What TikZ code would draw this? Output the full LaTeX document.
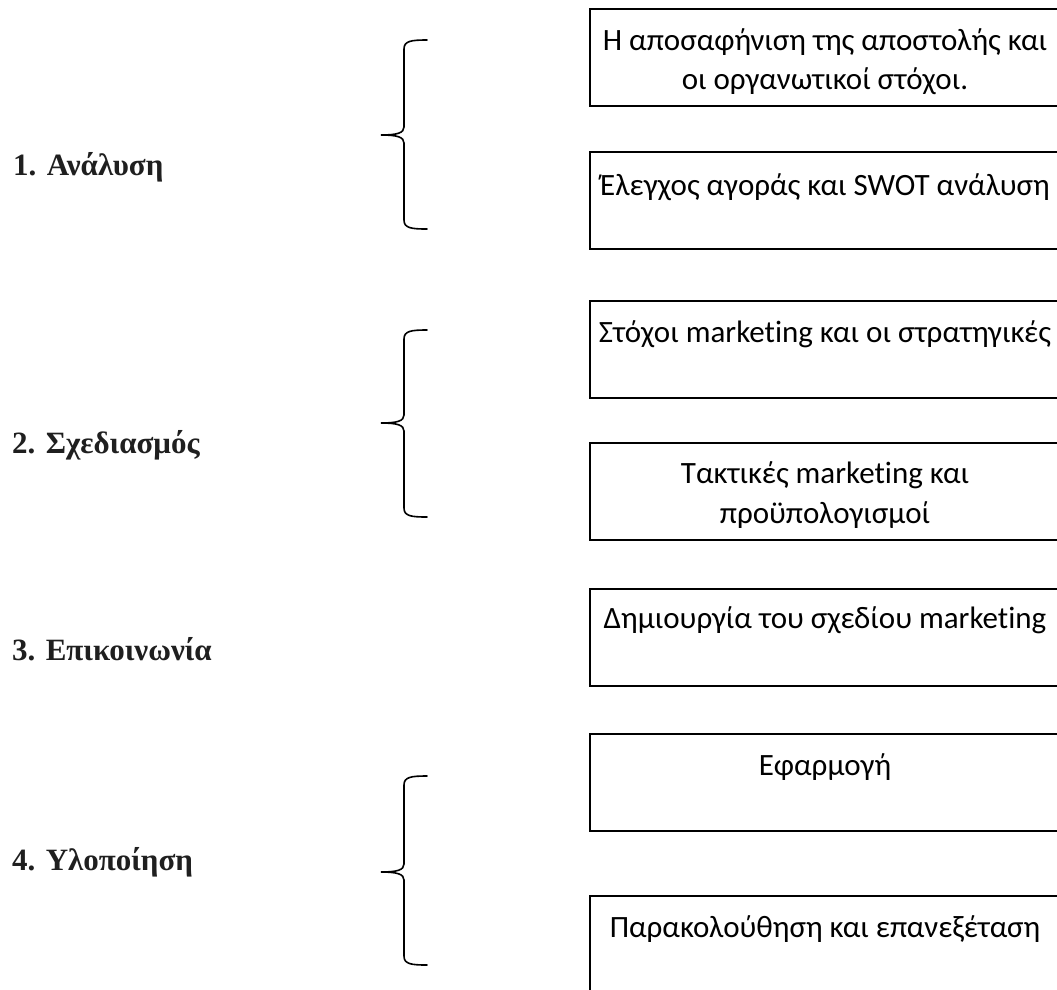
\documentclass[tikz,border=0pt]{standalone}
\usepackage{fontspec}
\newfontfamily\boxfont[Ligatures={NoCommon}]{Carlito}
\newfontfamily\labfont{Liberation Serif}
\newcommand{\mybrace}[3]{%
  \draw[bracestyle] (427,#1) .. controls (411,#1) and (404,#1+1) .. (404,#1+9)
    -- (404,#2-8) .. controls (404,#2-2) and (397,#2) .. (381,#2)
    .. controls (397,#2) and (404,#2+2) .. (404,#2+8)
    -- (404,#3-9) .. controls (404,#3-1) and (411,#3) .. (427,#3);}
\begin{document}
\begin{tikzpicture}[x=1pt,y=-1pt,
  boxstyle/.style={draw, line width=1.8pt, inner sep=0pt, minimum width=477pt, minimum height=97pt, anchor=north west},
  btext/.style={font=\boxfont\fontsize{31}{38}\selectfont, anchor=base, inner sep=0pt},
  lab/.style={font=\labfont\bfseries\fontsize{31}{37}\selectfont, anchor=base west, inner sep=0pt, text=black!88},
  bracestyle/.style={line width=1.6pt, line cap=round}]
\useasboundingbox (0,0) rectangle (1057,989);
\clip (0,0) rectangle (1057,989);
\fill[white] (0,0) rectangle (1057,989);
% boxes
\node[boxstyle] (b1) at (589,8) {};
\node[boxstyle] (b2) at (589,151) {};
\node[boxstyle] (b3) at (589,300) {};
\node[boxstyle] (b4) at (589,442) {};
\node[boxstyle] (b5) at (589,588) {};
\node[boxstyle] (b6) at (589,733) {};
\node[boxstyle] (b7) at (589,895) {};
% box texts
\node[btext] (t1a) at (825,50) {Η αποσαφήνιση της αποστολής και};
\node[btext] (t1b) at (825,89) {οι οργανωτικοί στόχοι.};
\node[btext] (t2) at (825,195) {Έλεγχος αγοράς και SWOT ανάλυση};
\node[btext] (t3) at (825,342) {Στόχοι marketing και οι στρατηγικές};
\node[btext] (t4a) at (825,483) {Τακτικές marketing και};
\node[btext] (t4b) at (825,523) {προϋπολογισμοί};
\node[btext] (t5) at (825,628) {Δημιουργία του σχεδίου marketing};
\node[btext] (t6) at (825,775) {Εφαρμογή};
\node[btext] (t7) at (825,937) {Παρακολούθηση και επανεξέταση};
% labels
\node[lab] (l1) at (13,175) {1. Ανάλυση};
\node[lab] (l2) at (12,453) {2. Σχεδιασμός};
\node[lab] (l3) at (12,660) {3. Επικοινωνία};
\node[lab] (l4) at (12,870) {4. Υλοποίηση};
% braces
\mybrace{40}{135}{229}
\mybrace{330}{423}{517}
\mybrace{776}{872}{965}
\end{tikzpicture}
\end{document}
